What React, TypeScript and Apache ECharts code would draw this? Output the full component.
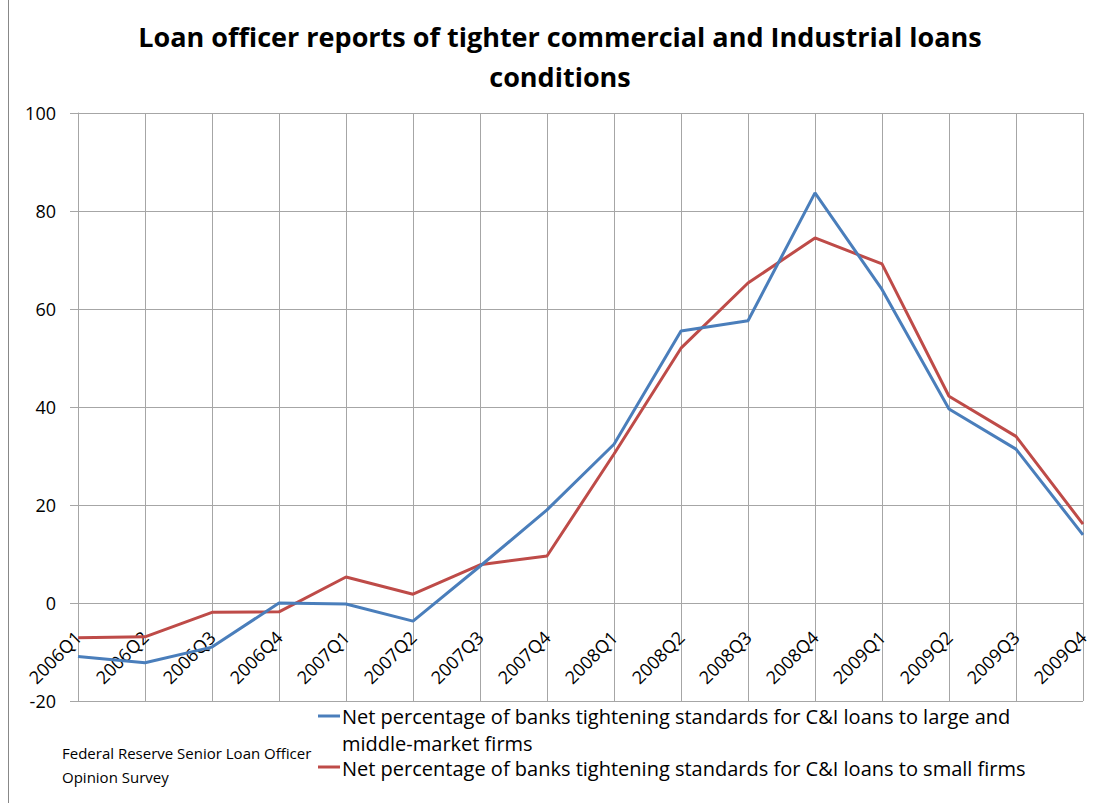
import React, { useEffect, useRef } from "react";
import * as echarts from "echarts";

const titleText = "Loan officer reports of tighter commercial and Industrial loans\nconditions";
const categories = [
  "2006Q1", "2006Q2", "2006Q3", "2006Q4",
  "2007Q1", "2007Q2", "2007Q3", "2007Q4",
  "2008Q1", "2008Q2", "2008Q3", "2008Q4",
  "2009Q1", "2009Q2", "2009Q3", "2009Q4",
];
const largeFirms = [-10.9, -12.2, -9.0, 0, -0.2, -3.7, 7.5, 19, 32.4, 55.5, 57.6, 83.7, 64, 39.6, 31.4, 13.9];
const smallFirms = [-7.1, -6.9, -1.9, -1.8, 5.3, 1.8, 7.8, 9.6, 30.4, 52, 65.3, 74.5, 69.2, 42.2, 34, 16.1];
const seriesNames = [
  "Net percentage of banks tightening standards for C&I loans to large and\nmiddle-market firms",
  "Net percentage of banks tightening standards for C&I loans to small firms",
];
const sourceText = "Federal Reserve Senior Loan Officer\nOpinion Survey";
const colors = ["#4A7EBB", "#BE4B48"];
const FONT = "'Open Sans', sans-serif";

export default function App() {
  const ref = useRef<HTMLDivElement>(null);
  useEffect(() => {
    if (!ref.current) return;
    const chart = echarts.init(ref.current, undefined, { renderer: "svg" });
    const gridColor = "#A6A6A6";
    chart.setOption({
      animation: false,
      backgroundColor: "#ffffff",
      title: {
        text: titleText,
        left: "center",
        top: 11,
        textStyle: {
          fontFamily: FONT,
          fontSize: 27,
          fontWeight: "bold",
          color: "#000",
          lineHeight: 40,
        },
      },
      grid: { left: 78, right: 37, top: 113, bottom: 102, containLabel: false },
      xAxis: {
        type: "category",
        data: categories,
        boundaryGap: false,
        offset: -98,
        axisLine: { onZero: false, lineStyle: { color: gridColor, width: 1 } },
        axisTick: { show: false },
        splitLine: { show: true, lineStyle: { color: gridColor, width: 1 } },
        axisLabel: {
          interval: 0,
          rotate: 45,
          margin: 31,
          fontSize: 18,
          fontFamily: FONT,
          color: "#000",
        },
      },
      yAxis: {
        type: "value",
        min: -20,
        max: 100,
        interval: 20,
        axisLine: { show: true, lineStyle: { color: gridColor, width: 1 } },
        axisTick: { show: true, length: 8, lineStyle: { color: gridColor } },
        splitLine: { show: true, lineStyle: { color: gridColor, width: 1 } },
        axisLabel: { fontSize: 18, fontFamily: FONT, color: "#000", margin: 22 },
      },
      series: [
        {
          name: seriesNames[0],
          type: "line",
          data: largeFirms,
          showSymbol: false,
          lineStyle: { color: colors[0], width: 3 },
          itemStyle: { color: colors[0] },
          z: 3,
        },
        {
          name: seriesNames[1],
          type: "line",
          data: smallFirms,
          showSymbol: false,
          lineStyle: { color: colors[1], width: 3 },
          itemStyle: { color: colors[1] },
          z: 2,
        },
      ],
      graphic: [
        {
          type: "line",
          shape: { x1: 8.5, y1: 0, x2: 8.5, y2: 803 },
          style: { stroke: "#888888", lineWidth: 1 },
        },
        {
          type: "text",
          x: 62,
          y: 741,
          style: {
            text: sourceText,
            fontSize: 15,
            fontFamily: FONT,
            fill: "#000",
            lineHeight: 24,
          },
        },
        {
          type: "line",
          shape: { x1: 318, y1: 716, x2: 340, y2: 716 },
          style: { stroke: colors[0], lineWidth: 3 },
        },
        {
          type: "text",
          x: 342,
          y: 703,
          style: {
            text: seriesNames[0],
            fontSize: 20,
            fontFamily: FONT,
            fill: "#000",
            lineHeight: 27,
          },
        },
        {
          type: "line",
          shape: { x1: 318, y1: 767, x2: 340, y2: 767 },
          style: { stroke: colors[1], lineWidth: 3 },
        },
        {
          type: "text",
          x: 342,
          y: 757,
          style: {
            text: seriesNames[1],
            fontSize: 20,
            fontFamily: FONT,
            fill: "#000",
            lineHeight: 22,
          },
        },
      ],
    });
    return () => chart.dispose();
  }, []);
  return (
    <div
      ref={ref}
      style={{ position: "absolute", left: 0, top: 0, width: 1120, height: 803 }}
    />
  );
}
